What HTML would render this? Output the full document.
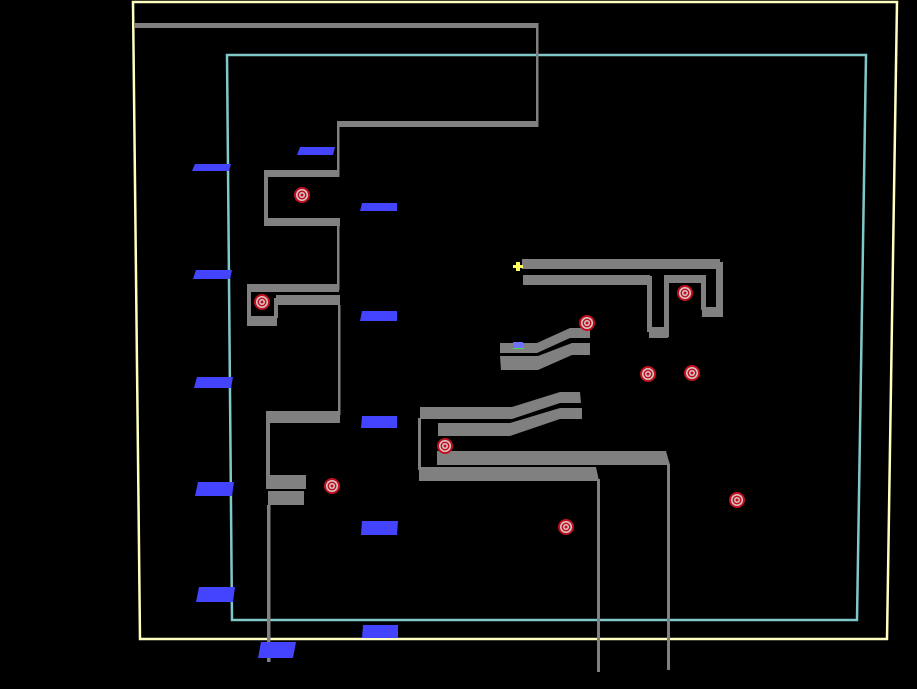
<!DOCTYPE html>
<html><head><style>html,body{margin:0;padding:0;background:#000;}svg{display:block}</style></head>
<body>
<svg width="917" height="689" viewBox="0 0 917 689" xmlns="http://www.w3.org/2000/svg">
<rect width="917" height="689" fill="#000"/>
<defs>
<g id="t"><circle r="8" fill="#c01020"/><circle r="6" fill="#d8c8c8"/><circle r="4.5" fill="#c01020"/><circle r="3" fill="#d8c8c8"/><circle r="1.5" fill="#c01020"/></g>
</defs>
<polygon points="133,2 897,2 887,639 140,639" fill="none" stroke="#ffffc0" stroke-width="2.5"/>
<polygon points="227,55 866,55 857,620 232,620" fill="none" stroke="#80c8c8" stroke-width="2.5"/>
<g fill="#808080">
<rect x="135" y="23" width="403" height="5"/>
<rect x="536" y="23" width="2.5" height="104"/>
<rect x="338" y="121" width="200" height="6"/>
<rect x="337" y="121" width="2.5" height="56"/>
<rect x="265" y="170" width="74" height="7"/>
<rect x="264" y="170" width="4" height="56"/>
<rect x="265" y="218" width="75" height="8"/>
<rect x="337" y="218" width="2.5" height="72"/>
<rect x="248" y="284" width="91" height="8"/>
<rect x="247" y="284" width="4" height="42"/>
<rect x="276" y="295" width="64" height="10"/>
<rect x="274" y="298" width="4" height="20"/>
<rect x="247" y="316" width="30" height="10"/>
<rect x="338" y="305" width="2.5" height="110"/>
<rect x="268" y="411" width="72" height="12"/>
<rect x="266" y="411" width="4" height="78"/>
<rect x="266" y="475" width="40" height="14"/>
<rect x="268" y="491" width="36" height="14"/>
<rect x="267" y="505" width="3.5" height="157"/>
<rect x="522" y="259" width="198" height="10"/>
<rect x="716" y="262" width="7" height="55"/>
<rect x="702" y="307" width="21" height="10"/>
<rect x="701" y="275" width="5" height="35"/>
<rect x="664" y="275" width="40" height="8"/>
<rect x="664" y="275" width="5" height="62"/>
<rect x="649" y="327" width="19" height="11"/>
<rect x="647" y="276" width="5" height="56"/>
<rect x="523" y="275" width="127" height="10"/>
<polygon points="500,343 537,343 570,328 590,328 590,338 570,338 537,353 500,353"/>
<polygon points="500,356 538,356 572,343 590,343 590,355 572,355 538,370 501,370"/>
<polygon points="420,407 512,407 560,392 580,392 581,403 560,403 512,419 420,419"/>
<polygon points="438,423 510,423 560,408 582,408 582,419 560,419 510,436 438,436"/>
<rect x="418" y="418" width="3" height="52"/>
<polygon points="437,451 666,451 670,465 437,465"/>
<polygon points="419,467 596,467 599,481 419,481"/>
<rect x="597" y="479" width="3" height="193"/>
<rect x="667" y="464" width="3" height="206"/>
</g>
<g fill="#4444ff">
<polygon points="195,164 231,164 229,171 192,171"/>
<polygon points="300,147 335,147 333,155 297,155"/>
<polygon points="362,203 397,203 397,211 360,211"/>
<polygon points="196,270 232,270 230,279 193,279"/>
<polygon points="362,311 397,311 397,321 360,321"/>
<polygon points="197,377 233,377 231,388 194,388"/>
<polygon points="362,416 397,416 397,428 361,428"/>
<polygon points="198,482 234,482 232,496 195,496"/>
<polygon points="362,521 398,521 397,535 361,535"/>
<polygon points="199,587 235,587 233,602 196,602"/>
<polygon points="363,625 398,625 398,638 362,638"/>
<polygon points="261,642 296,642 293,658 258,658"/>
</g>
<use href="#t" x="302" y="195"/>
<use href="#t" x="262" y="302"/>
<use href="#t" x="587" y="323"/>
<use href="#t" x="685" y="293"/>
<use href="#t" x="648" y="374"/>
<use href="#t" x="692" y="373"/>
<use href="#t" x="445" y="446"/>
<use href="#t" x="332" y="486"/>
<use href="#t" x="566" y="527"/>
<use href="#t" x="737" y="500"/>
<path d="M516,262 h4 v3 h3 v3 h-3 v3 h-4 v-3 h-3 v-3 h3z" fill="#ffff60"/>
<rect x="513" y="342" width="10" height="6" fill="#7070ff"/>
<rect x="513" y="348" width="11" height="1" fill="#40e040"/>
</svg>
</body></html>
